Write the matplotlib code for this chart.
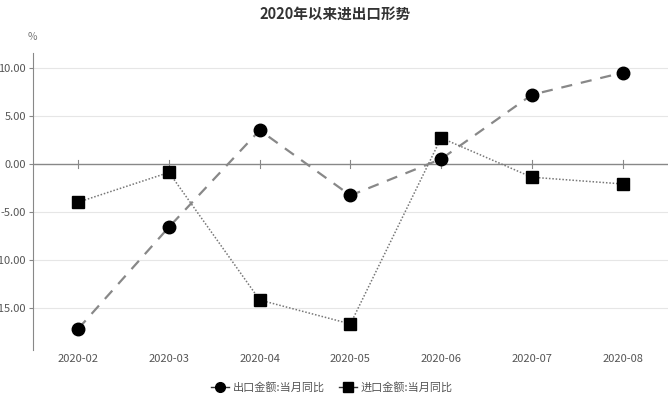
import matplotlib.pyplot as plt
from matplotlib.lines import Line2D

plt.rcParams['font.family'] = ['Noto Sans CJK SC', 'DejaVu Sans']

months = ["2020-02", "2020-03", "2020-04", "2020-05", "2020-06", "2020-07", "2020-08"]
exports = [-17.2, -6.6, 3.5, -3.3, 0.5, 7.2, 9.5]
imports = [-4.0, -0.9, -14.2, -16.7, 2.7, -1.4, -2.1]
yticks = [-15, -10, -5, 0, 5, 10]

fig = plt.figure(figsize=(6.71, 4.04), dpi=100)
ax = fig.add_axes([0.049, 0.134, 0.9465, 0.735])
x = list(range(len(months)))

for t in yticks:
    if t != 0:
        ax.axhline(t, color="#e6e6e6", lw=0.8, zorder=0)
ax.axhline(0, color="#888888", lw=1.0, zorder=1)

ax.plot(x, exports, color="#888888", lw=1.6, ls=(0, (5, 4)), zorder=2)
ax.plot(x, exports, ls="none", marker="o", ms=9, color="black", zorder=4)
ax.plot(x, imports, color="#777777", lw=1.1, ls=(0, (1, 1.2)), zorder=2)
ax.plot(x, imports, ls="none", marker="s", ms=9, color="black", zorder=4)

# small ticks sitting on the zero line
for xi in x:
    ax.plot([xi, xi], [-0.4, 0.4], color="#888888", lw=0.8, zorder=1)

ax.set_xlim(-0.5, 6.5)
ax.set_ylim(-19.4, 11.56)
ax.set_yticks(yticks)
ax.set_yticklabels([f"{t:.2f}" for t in yticks])
ax.set_xticks(x)
ax.set_xticklabels(months)
ax.tick_params(axis="x", length=0, pad=3, labelsize=8, labelcolor="#555555")
ax.tick_params(axis="y", length=3, color="#888888", pad=2, labelsize=8, labelcolor="#555555")

for s in ["top", "right", "bottom"]:
    ax.spines[s].set_visible(False)
ax.spines["left"].set_color("#888888")

fig.text(0.5, 0.965, "2020年以来进出口形势", ha="center", va="center",
         fontsize=10.5, fontweight="bold", color="#333333")
fig.text(0.041, 0.908, "%", ha="left", va="center", fontsize=7.5, color="#777777")

handles = [
    Line2D([], [], color="#333333", lw=1, marker="o", ms=7, mfc="black", mec="black"),
    Line2D([], [], color="#333333", lw=1, marker="s", ms=7, mfc="black", mec="black"),
]
fig.legend(handles, ["出口金额:当月同比", "进口金额:当月同比"], loc="center",
           bbox_to_anchor=(0.495, 0.04), ncol=2, frameon=False, fontsize=8,
           handlelength=1.6, handletextpad=0.4, columnspacing=1.2,
           labelcolor="#555555")

fig.savefig("out.png", dpi=100)
